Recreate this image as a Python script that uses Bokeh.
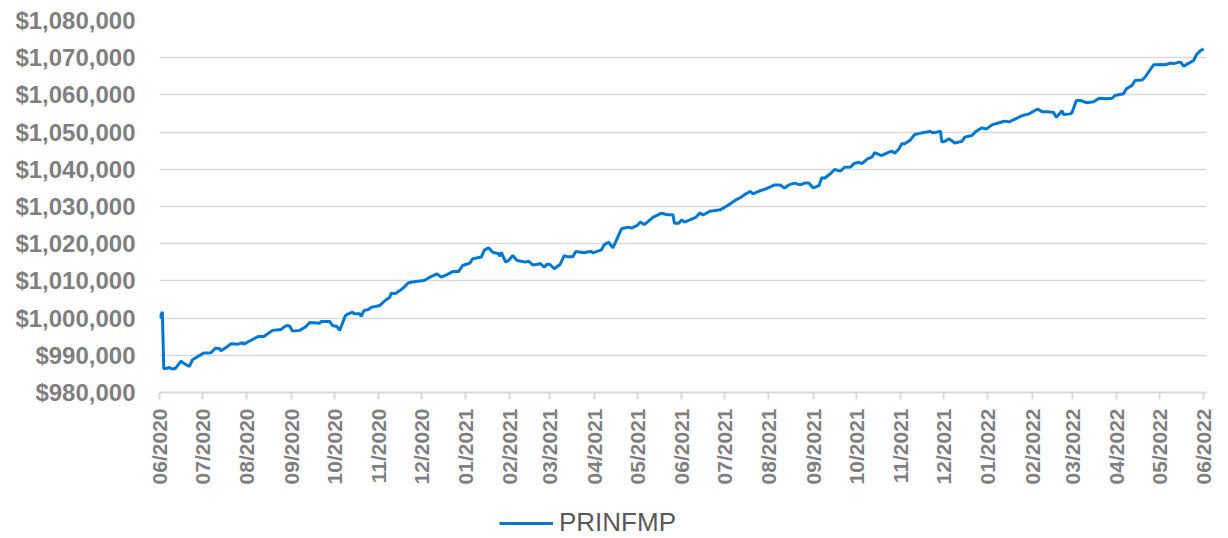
import numpy as np
import pandas as pd
from bokeh.plotting import figure
from bokeh.layouts import column
from bokeh.models import (ColumnDataSource, Range1d, FixedTicker, MonthsTicker,
                          DatetimeTickFormatter, NumeralTickFormatter, Legend, LegendItem)
from bokeh.embed import file_html
from bokeh.resources import INLINE

series_name = "PRINFMP"

dates = [
    "2020-06-01", "2020-06-03", "2020-06-04", "2020-06-06", "2020-06-08", "2020-06-09", "2020-06-12", "2020-06-16", "2020-06-19", "2020-06-22", "2020-06-24", "2020-06-27",
    "2020-07-02", "2020-07-07", "2020-07-10", "2020-07-13", "2020-07-14", "2020-07-18", "2020-07-21", "2020-07-26", "2020-07-29", "2020-07-30",
    "2020-08-05", "2020-08-09", "2020-08-13", "2020-08-19", "2020-08-25", "2020-08-27", "2020-08-29", "2020-08-31",
    "2020-09-02", "2020-09-07", "2020-09-11", "2020-09-14", "2020-09-21", "2020-09-22", "2020-09-28", "2020-09-30",
    "2020-10-03", "2020-10-05", "2020-10-09", "2020-10-11", "2020-10-14", "2020-10-15", "2020-10-19", "2020-10-20", "2020-10-22", "2020-10-25", "2020-10-27", "2020-10-30",
    "2020-11-02", "2020-11-06", "2020-11-09", "2020-11-10", "2020-11-13", "2020-11-16", "2020-11-19", "2020-11-22", "2020-11-27",
    "2020-12-03", "2020-12-07", "2020-12-12", "2020-12-15", "2020-12-19", "2020-12-23", "2020-12-27", "2020-12-30",
    "2021-01-04", "2021-01-06", "2021-01-12", "2021-01-14", "2021-01-17", "2021-01-20", "2021-01-24", "2021-01-25", "2021-01-26", "2021-01-29", "2021-01-31",
    "2021-02-03", "2021-02-06", "2021-02-12", "2021-02-14", "2021-02-17", "2021-02-21", "2021-02-22", "2021-02-25", "2021-02-27",
    "2021-03-01", "2021-03-04", "2021-03-08", "2021-03-11", "2021-03-13", "2021-03-17", "2021-03-19", "2021-03-25", "2021-03-27", "2021-03-30", "2021-03-31",
    "2021-04-06", "2021-04-08", "2021-04-11", "2021-04-14", "2021-04-20", "2021-04-25", "2021-04-27",
    "2021-05-01", "2021-05-03", "2021-05-06", "2021-05-12", "2021-05-18", "2021-05-22", "2021-05-26", "2021-05-27", "2021-05-30",
    "2021-06-01", "2021-06-03", "2021-06-06", "2021-06-11", "2021-06-14", "2021-06-16", "2021-06-21", "2021-06-28",
    "2021-07-02", "2021-07-05", "2021-07-09", "2021-07-12", "2021-07-16", "2021-07-19", "2021-07-21", "2021-07-25", "2021-07-30",
    "2021-08-05", "2021-08-09", "2021-08-12", "2021-08-15", "2021-08-19", "2021-08-23", "2021-08-26", "2021-08-29",
    "2021-09-01", "2021-09-05", "2021-09-07", "2021-09-09", "2021-09-13", "2021-09-16", "2021-09-20", "2021-09-23", "2021-09-27", "2021-09-30",
    "2021-10-03", "2021-10-05", "2021-10-09", "2021-10-12", "2021-10-14", "2021-10-19", "2021-10-22", "2021-10-26", "2021-10-28", "2021-10-31",
    "2021-11-02", "2021-11-04", "2021-11-08", "2021-11-11", "2021-11-16", "2021-11-22", "2021-11-24", "2021-11-29", "2021-11-30",
    "2021-12-02", "2021-12-05", "2021-12-09", "2021-12-14", "2021-12-16", "2021-12-21", "2021-12-24", "2021-12-28", "2021-12-31",
    "2022-01-04", "2022-01-09", "2022-01-13", "2022-01-16", "2022-01-19", "2022-01-23", "2022-01-26", "2022-01-30",
    "2022-02-02", "2022-02-05", "2022-02-08", "2022-02-12", "2022-02-16", "2022-02-18", "2022-02-21", "2022-02-22", "2022-02-23", "2022-02-28",
    "2022-03-01", "2022-03-04", "2022-03-07", "2022-03-11", "2022-03-16", "2022-03-20", "2022-03-25", "2022-03-29", "2022-03-31",
    "2022-04-06", "2022-04-08", "2022-04-12", "2022-04-14", "2022-04-19", "2022-04-21", "2022-04-27",
    "2022-05-02", "2022-05-05", "2022-05-09", "2022-05-11", "2022-05-15", "2022-05-16", "2022-05-18", "2022-05-21", "2022-05-25", "2022-05-27", "2022-05-30", "2022-06-01",
]

values = [
    1000000, 1001700, 986400, 986500, 986700, 986400, 986400, 988400, 987600, 987000, 988800, 989500,
    990600, 990700, 991900, 991800, 991200, 992200, 993100, 993000, 993400, 993000,
    994250, 995050, 995050, 996700, 996950, 997600, 998000, 997900,
    996500, 996700, 997600, 998800, 998600, 999100, 999100, 998000,
    997750, 996700, 1000700, 1001150, 1001600, 1001150, 1001150, 1000450, 1002050, 1002300, 1002900, 1003100,
    1003400, 1004800, 1005600, 1006700, 1006600, 1007400, 1008300, 1009500, 1009850,
    1010100, 1011000, 1011900, 1011000, 1011700, 1012500, 1012500, 1014150,
    1014800, 1015950, 1016400, 1018200, 1018900, 1017700, 1017300, 1016650, 1017700, 1015050, 1015500,
    1016850, 1015500, 1015050, 1015300, 1014300, 1014500, 1014700, 1013700, 1014500,
    1014400, 1013250, 1014400, 1016800, 1016500, 1016500, 1017900, 1017550, 1017800, 1017900, 1017550,
    1018350, 1019750, 1020400, 1018900, 1024000, 1024450, 1024200,
    1024900, 1025800, 1025150, 1027100, 1028200, 1027800, 1027800, 1025500, 1025500,
    1026400, 1025800, 1026250, 1027100, 1028300, 1027700, 1028750, 1029100,
    1030000, 1030700, 1031800, 1032350, 1033400, 1034050, 1033400, 1034100, 1034750,
    1035800, 1035800, 1035000, 1035800, 1036300, 1035800, 1036300, 1036300,
    1035000, 1035600, 1037700, 1037600, 1038800, 1039950, 1039500, 1040550, 1040600, 1041650,
    1041900, 1041500, 1042800, 1043250, 1044450, 1043700, 1044300, 1044900, 1044300, 1045500,
    1046850, 1046850, 1047900, 1049350, 1049800, 1050150, 1049800, 1050250, 1047300,
    1047500, 1048200, 1047050, 1047500, 1048650, 1049100, 1050250, 1051150, 1050800,
    1051950, 1052500, 1052950, 1052750, 1053300, 1054000, 1054550, 1054900,
    1055600, 1056200, 1055500, 1055500, 1055300, 1054000, 1055300, 1055700, 1054750, 1054900,
    1055300, 1058500, 1058500, 1057900, 1058150, 1059100, 1058950, 1059100, 1059850,
    1060300, 1061650, 1062550, 1063850, 1064000, 1064750, 1068100,
    1068150, 1068100, 1068550, 1068400, 1068800, 1068800, 1067700, 1068400, 1069250, 1070850, 1071950, 1072400,
]

y_ticks = [980000, 990000, 1000000, 1010000, 1020000, 1030000, 1040000, 1050000, 1060000, 1070000, 1080000]
x_start = "2020-06-01"
x_end = "2022-06-03"

src = ColumnDataSource(data=dict(date=pd.to_datetime(dates), value=values))

GRAY = "#7f7f7f"
GRID = "#d9d9d9"
BLUE = "#0078d4"
FONT = "Liberation Sans"

p = figure(width=1228, height=500, x_axis_type="datetime",
           output_backend="svg", toolbar_location=None,
           x_range=Range1d(pd.Timestamp(x_start), pd.Timestamp(x_end)),
           y_range=Range1d(y_ticks[0], y_ticks[-1]),
           min_border_left=159, min_border_right=22, min_border_top=20, min_border_bottom=108)
p.outline_line_color = None
p.background_fill_color = "white"

p.xgrid.visible = False
p.ygrid.ticker = FixedTicker(ticks=y_ticks)
p.ygrid.grid_line_color = GRID
p.ygrid.grid_line_width = 1.6

yax = p.yaxis[0]
yax.ticker = FixedTicker(ticks=y_ticks)
yax.formatter = NumeralTickFormatter(format="$0,0")
yax.axis_line_color = None
yax.major_tick_line_color = None
yax.minor_tick_line_color = None
yax.major_tick_out = 0
yax.major_tick_in = 0
yax.major_label_standoff = 24
yax.major_label_text_font = FONT
yax.major_label_text_font_style = "bold"
yax.major_label_text_font_size = "24px"
yax.major_label_text_color = GRAY

xax = p.xaxis[0]
xax.ticker = MonthsTicker(months=list(range(12)))
xax.formatter = DatetimeTickFormatter(days="%m/%Y", months="%m/%Y", years="%m/%Y")
xax.major_label_orientation = np.pi / 2
xax.axis_line_color = GRID
xax.axis_line_width = 2
xax.major_tick_line_color = GRID
xax.major_tick_line_width = 2
xax.major_tick_out = 7
xax.major_tick_in = 0
xax.minor_tick_line_color = None
xax.major_label_standoff = 9
xax.major_label_text_font = FONT
xax.major_label_text_font_style = "bold"
xax.major_label_text_font_size = "21px"
xax.major_label_text_color = GRAY

p.line("date", "value", source=src, line_color=BLUE, line_width=3)

# Legend strip below the chart (its frame is aligned with the main frame by the column)
lg = figure(width=1228, height=38, output_backend="svg", toolbar_location=None,
            x_axis_location=None, y_axis_location=None,
            x_range=Range1d(0, 1), y_range=Range1d(0, 1),
            min_border_left=0, min_border_right=0, min_border_top=0, min_border_bottom=0)
lg.outline_line_color = None
lg.xgrid.visible = False
lg.ygrid.visible = False
# same series, but outside this strip's ranges: only its legend key is visible
key = lg.line("date", "value", source=src, line_color=BLUE, line_width=3)

legend = Legend(items=[LegendItem(label=series_name, renderers=[key])],
                location=(340, 0), orientation="horizontal",
                glyph_width=54, glyph_height=20, label_standoff=6, padding=1, margin=0,
                border_line_color=None, background_fill_alpha=0,
                label_text_font=FONT, label_text_font_size="26px", label_text_color="#595959")
lg.add_layout(legend)

open("out.html", "w").write(file_html(column(p, lg, spacing=0), INLINE))
